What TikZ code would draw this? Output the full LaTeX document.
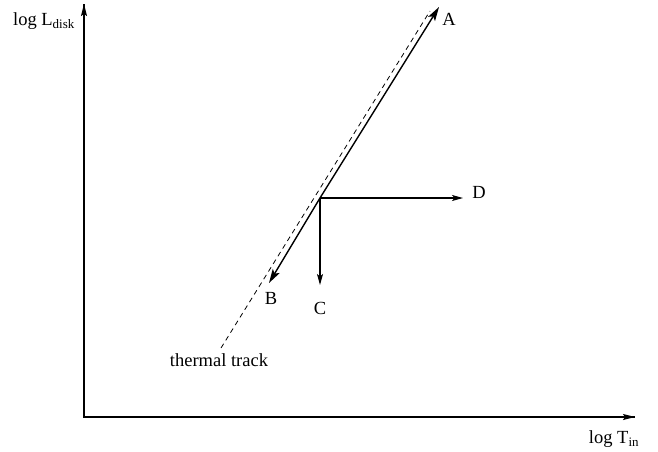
\documentclass[tikz,border=0pt]{standalone}
\usepackage{fontspec}
\setmainfont{Liberation Serif}
\usetikzlibrary{arrows.meta}
\begin{document}
\begin{tikzpicture}[x=1pt,y=-1pt,
  lab/.style={font=\fontsize{18.5}{20}\selectfont, inner sep=0pt},
  ax/.style={line width=1.4pt, -{Stealth[length=12pt,width=6pt,inset=2pt]}},
  big/.style={line width=1.4pt, -{Stealth[length=14pt,width=8pt,inset=3pt]}},
  small/.style={line width=1.2pt, -{Stealth[length=11pt,width=6pt,inset=2.5pt]}},
  track/.style={line width=0.8pt, dash pattern=on 5pt off 4pt}]
\useasboundingbox (0,0) rectangle (658,451);
\coordinate (O) at (84,417);
\coordinate (Ytop) at (84,4);
\coordinate (Xend) at (635,417);
\coordinate (P) at (320,198);
\coordinate (Atip) at (439,7);
\coordinate (Btip) at (269,283);
\coordinate (Ctip) at (320,285);
\coordinate (Dtip) at (463,198);
\coordinate (T1) at (221,348);
\coordinate (T2) at (430,11);
\draw[track] (T1) -- (T2);
\draw[line width=1.4pt] (Ytop) -- (O) -- (Xend);
\draw[ax] (84,20) -- (Ytop);
\draw[ax] (600,417) -- (Xend);
\draw[big] (P) -- (Atip);
\draw[big] (P) -- (Btip);
\draw[small] (P) -- (Ctip);
\draw[small] (P) -- (Dtip);
\node[lab] (A) at (449,19) {A};
\node[lab] (B) at (271,298) {B};
\node[lab] (C) at (320,308) {C};
\node[lab] (D) at (479,192) {D};
\node[lab] (tt) at (219,360) {thermal track};
\node[lab] (yl) at (44,21) {log L\textsubscript{disk}};
\node[lab] (xl) at (614,439) {log T\textsubscript{in}};
\end{tikzpicture}
\end{document}
